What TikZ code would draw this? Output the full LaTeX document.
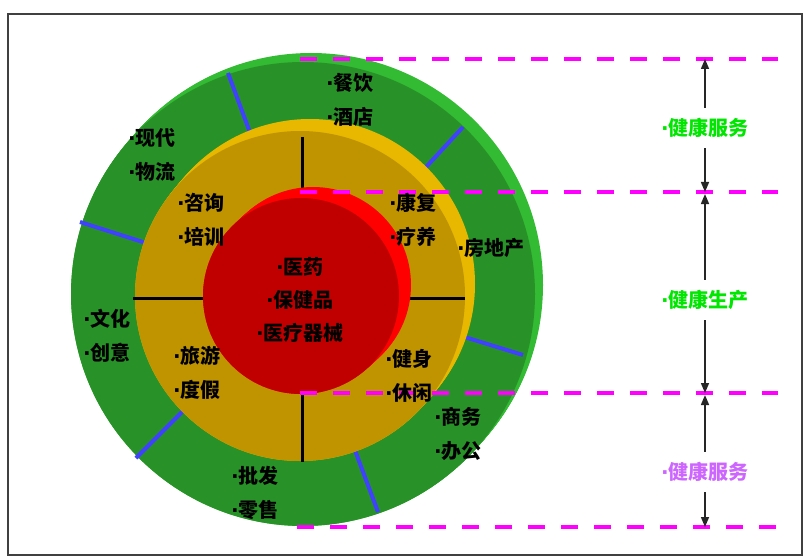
\documentclass[tikz,border=0pt]{standalone}
\usepackage{fontspec}
\setmainfont{Noto Sans CJK SC}
\newfontfamily\dotfont{DejaVu Sans}
\usetikzlibrary{calc,arrows.meta}
\definecolor{gLight}{RGB}{51,187,51}
\definecolor{gDark}{RGB}{40,146,40}
\definecolor{yLight}{RGB}{232,184,0}
\definecolor{yDark}{RGB}{191,148,0}
\definecolor{rLight}{RGB}{255,0,0}
\definecolor{rDark}{RGB}{192,0,0}
\definecolor{sepBlue}{RGB}{64,64,255}
\definecolor{mag}{RGB}{255,0,255}
\definecolor{txtGreen}{RGB}{0,230,0}
\definecolor{txtViolet}{RGB}{204,102,255}
\newcommand\bdot{{\dotfont\bfseries ·}}
\tikzset{
  ringtxt/.style={font=\bfseries\fontsize{20}{34}\selectfont, align=left, inner sep=0pt, text=black},
  sidetxt/.style={font=\bfseries\fontsize{20}{24}\selectfont, inner sep=0pt, minimum height=40pt},
  sepline/.style={sepBlue, line width=4pt},
  crossline/.style={black, line width=3pt},
  magdash/.style={mag, line width=3.5pt, dash pattern=on 17pt off 16pt},
  arr/.style={-{Triangle[length=10pt,width=8pt]}, line width=1.5pt, black!85}
}
\begin{document}
\begin{tikzpicture}[x=1pt,y=-1pt]
\useasboundingbox (0,0) rectangle (809,559);
\fill[white] (0,0) rectangle (809,559);
% green disc
\foreach \t in {0,0.1,...,1.01} \fill[gLight] ($(311,285)!\t!(303,294)$) circle[radius=232pt];
\fill[gDark] (303,294) circle[radius=232pt];
% blue separators
\draw[sepline] (228,73) -- (252,138);
\draw[sepline] (463,127) -- (416,178);
\draw[sepline] (80,222) -- (146,243);
\draw[sepline] (523,355) -- (458,335);
\draw[sepline] (136,458) -- (183,411);
\draw[sepline] (378,512) -- (353,445);
% yellow disc
\foreach \t in {0,0.1,...,1.01} \fill[yLight] ($(310,284)!\t!(300,296)$) circle[radius=165pt];
\fill[yDark] (300,296) circle[radius=165pt];
% cross
\draw[crossline] (302,137) -- (302,462);
\draw[crossline] (133,298) -- (465,298);
% red disc
\foreach \t in {0,0.1,...,1.01} \fill[rLight] ($(313,285)!\t!(301,296)$) circle[radius=98pt];
\fill[rDark] (301,296) circle[radius=98pt];
% magenta dashed levels
\coordinate (d1) at (705,59);
\coordinate (d2) at (705,192);
\coordinate (d3) at (705,393);
\coordinate (d4) at (705,527);
\draw[magdash] (300,59) -- (778,59);
\draw[magdash] (300,192) -- (778,192);
\draw[magdash] (300,393) -- (778,393);
\draw[magdash] (297,527) -- (778,527);
% side labels and arrows
\node[sidetxt, text=txtGreen] (s1) at (705,128) {\bdot 健康服务};
\node[sidetxt, text=txtGreen] (s2) at (705,300) {\bdot 健康生产};
\node[sidetxt, text=txtViolet] (s3) at (705,472) {\bdot 健康服务};
\draw[arr] (s1) -- (d1);
\draw[arr] (s1) -- (d2);
\draw[arr] (s2) -- ($(d2)+(0,2)$);
\draw[arr] (s2) -- (d3);
\draw[arr] (s3) -- ($(d3)+(0,2)$);
\draw[arr] (s3) -- (d4);
% ring texts
\node[ringtxt] (t1) at (350,100) {\bdot 餐饮\\\bdot 酒店};
\node[ringtxt] (t2) at (152,155) {\bdot 现代\\\bdot 物流};
\node[ringtxt] (t3) at (201,220) {\bdot 咨询\\\bdot 培训};
\node[ringtxt] (t4) at (413,220) {\bdot 康复\\\bdot 疗养};
\node[ringtxt] (t5) at (491,248) {\bdot 房地产};
\node[ringtxt, align=center, font=\bfseries\fontsize{20}{33}\selectfont] (t6) at (300,300) {\bdot 医药\\\bdot 保健品\\\bdot 医疗器械};
\node[ringtxt] (t7) at (107,336) {\bdot 文化\\\bdot 创意};
\node[ringtxt] (t8) at (197,373) {\bdot 旅游\\\bdot 度假};
\node[ringtxt] (t9) at (409,376) {\bdot 健身\\\bdot 休闲};
\node[ringtxt] (t10) at (458,434) {\bdot 商务\\\bdot 办公};
\node[ringtxt] (t11) at (255,493) {\bdot 批发\\\bdot 零售};
% frame
\draw[line width=2pt, black!75] (8,14) rectangle (802,555);
\end{tikzpicture}
\end{document}
